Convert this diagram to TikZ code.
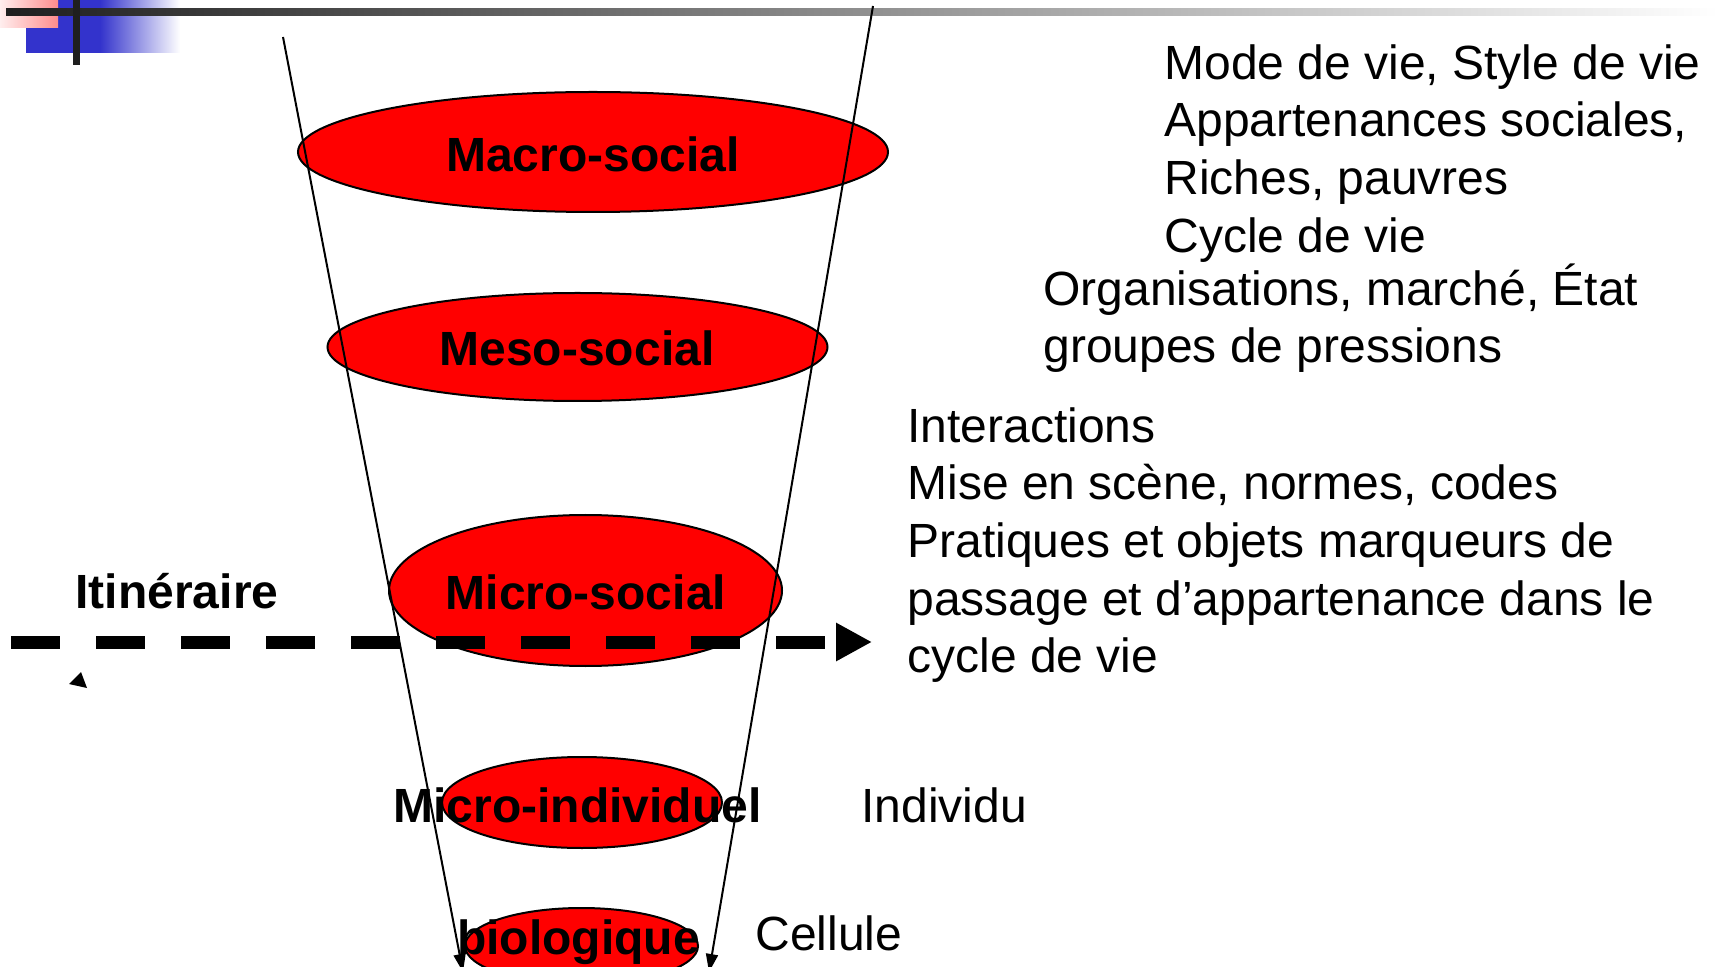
\documentclass[tikz,border=0pt]{standalone}
\usepackage{fontspec}
\setmainfont{Liberation Sans}
\usepackage{tikz}
\usetikzlibrary{arrows.meta,shapes.geometric}

\definecolor{bandblue}{RGB}{51,51,204}
\definecolor{bandpink}{RGB}{255,140,140}

\begin{document}
\begin{tikzpicture}[x=0.5pt,y=-0.5pt]
            \useasboundingbox (0,0) rectangle (1718,967);

            % bandeau du haut
            \fill[bandblue] (26,0) rectangle (100,53);
            \shade[left color=bandblue,right color=white] (100,0) rectangle (180,53);
            \shade[left color=bandpink!15,right color=bandpink] (0,0) rectangle (58,28);
            \shade[left color=black!88,right color=white] (6,9) rectangle (1718,16);
            \fill[black!88] (73,0) rectangle (80,65);

            \begin{scope}[every node/.style={ellipse,fill=red,draw=black,line width=1pt,inner sep=0pt}]
                \node (Ma) [minimum width=295pt,minimum height=60pt] at (593,152) {};
                \node (Me) [minimum width=250pt,minimum height=54pt] at (577.5,347) {};
                \node (Mi) [minimum width=196.5pt,minimum height=75.5pt] at (585.5,590.5) {};
                \node (Mn) [minimum width=140pt,minimum height=45.5pt] at (582,802.5) {};
                \node (Bi) [minimum width=116.5pt,minimum height=38pt] at (581.5,946) {};
            \end{scope}

            \coordinate (F1) at (283,37);
            \coordinate (F2) at (463,972);
            \coordinate (G1) at (873,6);
            \coordinate (G2) at (709,972);
            \begin{scope}[>={Triangle[length=9pt,width=6pt]},
                          every edge/.style={draw=black,line width=1pt}]
                \path [->] (F1) edge (F2);
                \path [->] (G1) edge (G2);
            \end{scope}

            \begin{scope}[every node/.style={font=\fontsize{24}{28.85}\selectfont\bfseries,anchor=base,inner sep=0pt}]
                \node (tMa) at (593,171.5) {Macro-social};
                \node (tMe) at (577,365.5) {Meso-social};
                \node (tMi) at (586,610) {Micro-social};
                \node (tMn) at (577.5,822) {Micro-individuel};
                \node (tBi) at (578.5,954) {biologique};
                \node (iti) at (177,609) {Itinéraire};
            \end{scope}

            % itineraire
            \coordinate (I1) at (11,642);
            \coordinate (I2) at (872,642);
            \draw [line width=6.5pt,dash pattern=on 24.5pt off 18pt,
                   -{Triangle[length=18pt,width=18pt]}] (I1) -- (I2);
            \fill (81,672) -- (69,684) -- (87,688) -- cycle;

            \begin{scope}[every node/.style={font=\fontsize{24}{28.85}\selectfont,align=left,inner sep=0pt}]
                \node (life) [anchor=north west] at (1164,44) {Mode de vie, Style de vie\\Appartenances sociales,\\Riches, pauvres\\Cycle de vie};
                \node (orga) [anchor=north west] at (1043,263) {Organisations, marché, État\\groupes de pressions};
                \node (inter) [anchor=north west] at (907,407) {Interactions\\Mise en scène, normes, codes\\Pratiques et objets marqueurs de\\passage et d’appartenance dans le\\cycle de vie};
                \node (indiv) [anchor=base west] at (861,822) {Individu};
                \node (cell) [anchor=base west] at (755,950.5) {Cellule};
            \end{scope}
        \end{tikzpicture}
\end{document}
